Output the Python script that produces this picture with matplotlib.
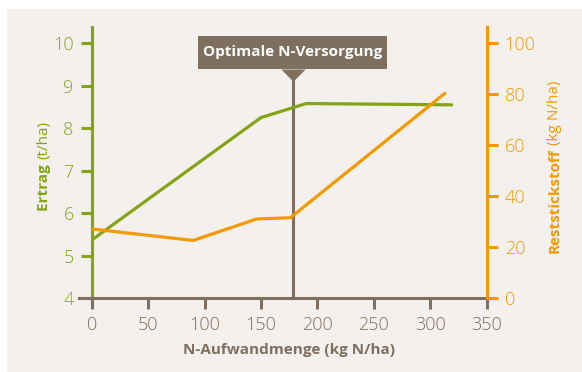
import matplotlib.pyplot as plt
from matplotlib.patches import Rectangle

# data
n_rate = [0, 150, 190, 319]
ertrag = [5.37, 8.25, 8.58, 8.55]
n_rate_rest = [0, 90, 146, 176, 313]
reststickstoff = [27.2, 22.7, 31.1, 31.6, 80.4]
optimum = 178
x_ticks = [0, 50, 100, 150, 200, 250, 300, 350]
y_ticks = [4, 5, 6, 7, 8, 9, 10]
y2_ticks = [0, 20, 40, 60, 80, 100]

green = "#84a416"
orange = "#f49a00"
brown = "#7f6f5e"
panel = "#f3f0ed"

plt.rcParams['font.family'] = ['Open Sans', 'DejaVu Sans']

fig = plt.figure(figsize=(5.82, 3.72), dpi=100)
fig.patch.set_facecolor("white")
fig.patches.append(Rectangle((7 / 582, 0), 1, 1 - 9 / 372, transform=fig.transFigure,
                             facecolor=panel, edgecolor="none", zorder=-10))

ax = fig.add_axes([0.1576, 0.1981, 0.8362 - 0.1576, 0.9274 - 0.1981])
ax.set_facecolor("none")
ax2 = ax.twinx()

ax.set_xlim(0, 350)
ax.set_ylim(4, 10.38)
ax2.set_ylim(0, 106.4)

# vertical optimum line + pointer + label box
ax.plot([optimum, optimum], [4, 9.15], color=brown, lw=2.2, zorder=1, solid_capstyle="butt")
ax.plot([optimum], [9.39], marker=[(-1, 0), (1, 0), (0, -1)], markersize=17.5,
        color=brown, markeredgewidth=0, zorder=3)
ax.add_patch(Rectangle((optimum - 83.7, 9.385), 167.4, 0.78, facecolor=brown,
                       edgecolor="none", zorder=3))
ax.text(optimum, 9.79, "Optimale N-Versorgung", ha="center", va="center",
        color="white", fontsize=11, fontweight="bold", zorder=4)

ax.plot(n_rate, ertrag, color=green, lw=2.3, zorder=5, solid_capstyle="round")
ax2.plot(n_rate_rest, reststickstoff, color=orange, lw=2.3, zorder=5, solid_capstyle="round")

for a in (ax, ax2):
    a.spines["top"].set_visible(False)
ax.spines["right"].set_visible(False)
ax2.spines["left"].set_visible(False)
ax2.spines["bottom"].set_visible(False)
ax.spines["left"].set_color(green)
ax.spines["left"].set_linewidth(2.2)
ax.spines["bottom"].set_color(brown)
ax.spines["bottom"].set_linewidth(2.2)
ax.spines["bottom"].set_bounds(-11, 350)
ax2.spines["right"].set_color(orange)
ax2.spines["right"].set_linewidth(2.2)

ax.set_xticks(x_ticks)
ax.set_yticks(y_ticks)
ax2.set_yticks(y2_ticks)
ax.tick_params(axis="x", colors=brown, labelsize=13, length=8, width=2.2, pad=5)
ax.tick_params(axis="y", colors=green, labelsize=13, length=8, width=2.2, pad=5)
ax2.tick_params(axis="y", colors=orange, labelsize=13, length=8, width=2.2, pad=5)
for lbl in ax.get_xticklabels() + ax.get_yticklabels() + ax2.get_yticklabels():
    lbl.set_fontweight("light")

ax.set_xlabel("N-Aufwandmenge (kg N/ha)", color=brown, fontsize=11, fontweight="bold", labelpad=6)

# y labels with mixed weight
fig.text(44 / 582, 1 - 186 / 372, "Ertrag ", rotation=90, ha="center", va="center",
         color=green, fontsize=11, fontweight="bold")
fig.text(44 / 582, 1 - 140 / 372, "(t/ha)", rotation=90, ha="center", va="center",
         color=green, fontsize=11)
fig.text(555 / 582, 1 - 201 / 372, "Reststickstoff", rotation=90, ha="center", va="center",
         color=orange, fontsize=11, fontweight="bold")
fig.text(555 / 582, 1 - 113 / 372, "(kg N/ha)", rotation=90, ha="center", va="center",
         color=orange, fontsize=11)

fig.savefig("out.png", dpi=100)
